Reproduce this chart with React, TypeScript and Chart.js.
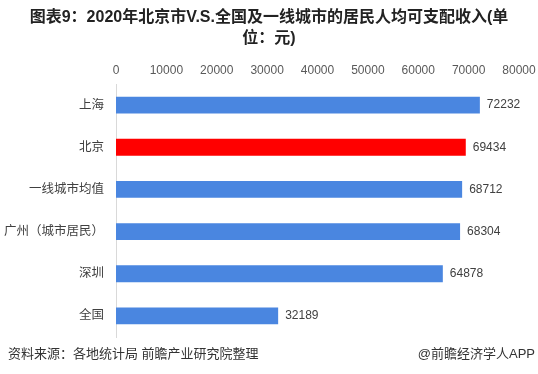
import React, { useEffect, useRef } from "react";
import { Chart, registerables } from "chart.js";

Chart.register(...registerables);

const categories = ["上海", "北京", "一线城市均值", "广州（城市居民）", "深圳", "全国"];
const values = [72232, 69434, 68712, 68304, 64878, 32189];
const barColors = ["#4a86e0", "#ff0000", "#4a86e0", "#4a86e0", "#4a86e0", "#4a86e0"];
const titleLines = ["图表9：2020年北京市V.S.全国及一线城市的居民人均可支配收入(单", "位：元)"];
const sourceText = "资料来源：各地统计局 前瞻产业研究院整理";
const brandText = "@前瞻经济学人APP";
const xMin = 0;
const xMax = 80000;
const xStep = 10000;

const FONT = "'Liberation Sans', 'Noto Sans CJK SC', sans-serif";

const valueLabels = {
  id: "valueLabels",
  afterDatasetsDraw(chart: any) {
    const { ctx } = chart;
    const meta = chart.getDatasetMeta(0);
    ctx.save();
    ctx.font = `12px ${FONT}`;
    ctx.fillStyle = "#404040";
    ctx.textAlign = "left";
    ctx.textBaseline = "middle";
    meta.data.forEach((bar: any, i: number) => {
      ctx.fillText(String(values[i]), bar.x + 7, bar.y);
    });
    ctx.restore();
  },
};

const footer = {
  id: "footer",
  afterDraw(chart: any) {
    const { ctx, width } = chart;
    ctx.save();
    ctx.font = `13px ${FONT}`;
    ctx.fillStyle = "#333333";
    ctx.textBaseline = "middle";
    ctx.textAlign = "left";
    ctx.fillText(sourceText, 8, 354);
    ctx.textAlign = "right";
    ctx.fillText(brandText, width - 3, 354);
    ctx.restore();
  },
};

export default function App() {
  const ref = useRef<HTMLCanvasElement>(null);
  useEffect(() => {
    if (!ref.current) return;
    const chart = new Chart(ref.current, {
      type: "bar",
      data: {
        labels: categories,
        datasets: [
          {
            data: values,
            backgroundColor: barColors,
            borderWidth: 0,
            barPercentage: 0.4,
            categoryPercentage: 1,
          },
        ],
      },
      options: {
        indexAxis: "y",
        responsive: false,
        animation: false,
        layout: { padding: { top: 0, right: 0, bottom: 37, left: 0 } },
        plugins: {
          legend: { display: false },
          tooltip: { enabled: false },
          title: {
            display: true,
            text: titleLines,
            color: "#222222",
            font: { family: FONT, size: 16, weight: "bold", lineHeight: 1.3 },
            padding: { top: 7, bottom: 9 },
          },
        },
        scales: {
          x: {
            position: "top",
            min: xMin,
            max: xMax,
            ticks: {
              stepSize: xStep,
              color: "#595959",
              font: { family: FONT, size: 12 },
              padding: 6,
              callback: (v: any) => String(v),
            },
            grid: { display: false, drawTicks: false },
            border: { display: false },
            afterFit(scale: any) {
              scale.paddingLeft = 0;
              scale.paddingRight = 19;
            },
          },
          y: {
            ticks: {
              color: "#404040",
              font: { family: FONT, size: 12.5 },
              padding: 12,
            },
            grid: { display: false, drawTicks: false },
            border: { display: true, color: "#d9d9d9", width: 1 },
            afterFit(scale: any) {
              scale.width = 116;
            },
          },
        },
      },
      plugins: [valueLabels, footer],
    });
    return () => chart.destroy();
  }, []);
  return (
    <div style={{ position: "fixed", left: 0, top: 0, width: 538, height: 374, background: "#fff" }}>
      <canvas ref={ref} width={538} height={374} />
    </div>
  );
}
